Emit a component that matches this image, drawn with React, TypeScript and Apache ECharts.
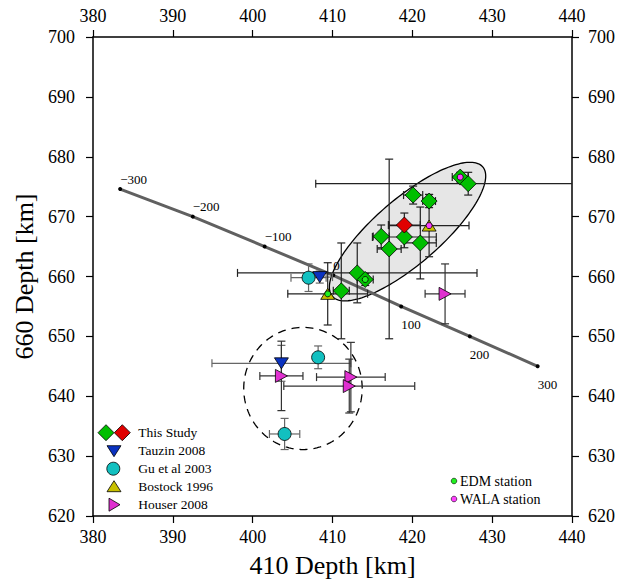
import React, { useEffect, useRef } from 'react';
import * as echarts from 'echarts';

const FONT = '"Liberation Serif", "Times New Roman", serif';

// Axis ranges / ticks
const X_MIN = 380, X_MAX = 440, X_STEP = 10;
const Y_MIN = 620, Y_MAX = 700, Y_STEP = 10;

// Slab profile (distance along profile, km) and its position
const slabDist = [-300, -200, -100, 0, 100, 200, 300];
const slabX = [383.4, 392.5, 401.5, 410.1, 418.6, 427.2, 435.7];
const slabY = [674.6, 670.0, 665.0, 660.2, 655.0, 650.0, 645.0];

// [410 depth, 660 depth, 410 error, 660 error]
const thisStudyGreen = [
  [420.1, 673.6, 1.2, 1.5],
  [422.1, 672.6, 0.8, 1.1],
  [416.1, 666.7, 1.0, 1.9],
  [419.0, 666.6, 4.0, 1.8],
  [421.0, 665.6, 2.0, 6.0],
  [417.1, 664.6, 1.5, 15.0],
  [413.1, 660.6, 15.0, 5.0],
  [414.1, 659.5, 1.0, 1.0],
  [411.1, 657.6, 1.0, 8.0],
  [426.0, 676.6, 1.0, 0.8],
  [427.0, 675.5, 19.1, 1.9],
];
const thisStudyRed = [[419.0, 668.6, 2.0, 2.0]];
const tauzin2008 = [
  [408.4, 659.9, 1.6, 1.0],
  [403.6, 645.5, 8.7, 3.0],
];
const gu2003 = [
  [407.0, 659.8, 2.2, 2.3],
  [408.2, 646.5, 0.5, 1.9],
  [404.0, 633.7, 1.9, 2.6],
];
const bostock1996 = [
  [422.1, 668.5, 5.0, 5.2],
  [409.4, 657.1, 5.0, 5.2],
];
const houser2008 = [
  [424.1, 657.1, 2.5, 5.0],
  [403.6, 643.4, 2.7, 5.8],
  [412.3, 643.2, 4.3, 5.8],
  [412.1, 641.7, 8.2, 4.5],
];
const edmStation = [[414.1, 659.5], [409.4, 657.1]];
const walaStation = [[426.0, 676.6], [422.1, 668.5]];

// Annotation shapes in data units: [cx, cy, ax, ay, bx, by]
const clusterEllipse = [[419.4, 667.5, 9.42, 10.81, 2.67, -4.14]];
const clusterCircle = [[406.3, 641.3, 7.42, 0, 0, 10.2]];

const C = {
  green: '#00bf00',
  red: '#e00000',
  blue: '#0a32c0',
  cyan: '#12c0c0',
  yellow: '#c8c000',
  magenta: '#e030d0',
  edm: '#20f020',
  wala: '#ff40ff',
};

const errRender = (color: string) => (params: any, api: any) => {
  const x = api.value(0), y = api.value(1), ex = api.value(2), ey = api.value(3);
  const cs = params.coordSys;
  const x0 = cs.x, x1 = cs.x + cs.width, y0 = cs.y, y1 = cs.y + cs.height;
  const cx = (v: number) => Math.max(x0, Math.min(x1, v));
  const cy = (v: number) => Math.max(y0, Math.min(y1, v));
  const l = api.coord([x - ex, y]);
  const r = api.coord([x + ex, y]);
  const t = api.coord([x, y + ey]);
  const b = api.coord([x, y - ey]);
  const cap = 4;
  const st = { stroke: color, lineWidth: 1.2, fill: null };
  const children: any[] = [];
  const seg = (a: number, bb: number, c: number, d: number) =>
    children.push({ type: 'line', shape: { x1: a, y1: bb, x2: c, y2: d }, style: st });
  if (ex > 0) {
    seg(cx(l[0]), l[1], cx(r[0]), r[1]);
    if (l[0] >= x0) seg(l[0], l[1] - cap, l[0], l[1] + cap);
    if (r[0] <= x1) seg(r[0], r[1] - cap, r[0], r[1] + cap);
  }
  if (ey > 0) {
    seg(t[0], cy(t[1]), b[0], cy(b[1]));
    if (t[1] >= y0) seg(t[0] - cap, t[1], t[0] + cap, t[1]);
    if (b[1] <= y1) seg(b[0] - cap, b[1], b[0] + cap, b[1]);
  }
  return { type: 'group', children };
};

const shapeRender = (style: any) => (params: any, api: any) => {
  const cxv = api.value(0), cyv = api.value(1);
  const ax = api.value(2), ay = api.value(3), bx = api.value(4), by = api.value(5);
  const pts: number[][] = [];
  const n = 160;
  for (let i = 0; i < n; i++) {
    const t = (i / n) * Math.PI * 2;
    pts.push(api.coord([cxv + ax * Math.cos(t) + bx * Math.sin(t), cyv + ay * Math.cos(t) + by * Math.sin(t)]));
  }
  return { type: 'polygon', shape: { points: pts }, style };
};

const errSeries = (data: number[][], color: string) => ({
  type: 'custom',
  data,
  encode: { x: 0, y: 1 },
  z: 3,
  silent: true,
  renderItem: errRender(color),
});

const markSeries = (name: string, data: number[][], symbol: string, size: any, color: string, rotate = 0, z = 4) => ({
  name,
  type: 'scatter',
  data: data.map((d) => [d[0], d[1]]),
  symbol,
  symbolSize: size,
  symbolRotate: rotate,
  z,
  itemStyle: { color, borderColor: '#000', borderWidth: 0.8, opacity: 1 },
});

const polyEl = (points: number[][], fill: string) => ({
  type: 'polygon',
  shape: { points },
  style: { fill, stroke: '#000', lineWidth: 0.8 },
});

const legendText = (text: string, x: number, y: number, size: number) => ({
  type: 'text',
  x,
  y,
  style: { text, fontSize: size, fontFamily: FONT, fill: '#000', align: 'left', verticalAlign: 'middle' },
});

function buildOption() {
  const axisCommon = {
    type: 'value',
    axisLine: { show: true, onZero: false, lineStyle: { color: '#000', width: 1.5 } },
    axisTick: { show: true, inside: false, length: 7, lineStyle: { color: '#000', width: 1.2 } },
    splitLine: { show: false },
    axisLabel: { fontSize: 18, fontFamily: FONT, color: '#000', margin: 12 },
  };
  const lg = 432.7;
  const dy = 18;
  const mx = 114;
  return {
    animation: false,
    backgroundColor: '#fff',
    grid: { left: 93, right: 42, top: 37, bottom: 63, containLabel: false },
    xAxis: [
      {
        ...axisCommon, min: X_MIN, max: X_MAX, interval: X_STEP, position: 'bottom',
        name: '410 Depth [km]', nameLocation: 'middle', nameGap: 36,
        nameTextStyle: { fontSize: 26, fontFamily: FONT, color: '#000' },
      },
      { ...axisCommon, min: X_MIN, max: X_MAX, interval: X_STEP, position: 'top' },
    ],
    yAxis: [
      {
        ...axisCommon, min: Y_MIN, max: Y_MAX, interval: Y_STEP, position: 'left',
        axisLabel: { ...axisCommon.axisLabel, margin: 18 },
        name: '660 Depth [km]', nameLocation: 'middle', nameGap: 55,
        nameTextStyle: { fontSize: 26, fontFamily: FONT, color: '#000' },
      },
      {
        ...axisCommon, min: Y_MIN, max: Y_MAX, interval: Y_STEP, position: 'right',
        axisLabel: { ...axisCommon.axisLabel, margin: 16 },
      },
    ],
    series: [
      {
        type: 'custom', data: clusterEllipse, encode: { x: 0, y: 1 }, z: 1, silent: true,
        renderItem: shapeRender({ fill: '#e6e6e6', stroke: '#000', lineWidth: 1.3 }),
      },
      {
        type: 'custom', data: clusterCircle, encode: { x: 0, y: 1 }, z: 1, silent: true,
        renderItem: shapeRender({ fill: null, stroke: '#000', lineWidth: 1.3, lineDash: [8, 6] }),
      },
      {
        type: 'line',
        z: 2,
        data: slabX.map((x, i) => ({
          value: [x, slabY[i]],
          label: slabDist[i] <= 0
            ? { position: [2, -8] }
            : { position: [2, 20] },
        })),
        symbol: 'circle',
        symbolSize: 4,
        showAllSymbol: true,
        itemStyle: { color: '#000' },
        lineStyle: { color: '#606060', width: 3 },
        label: {
          show: true,
          fontSize: 13,
          fontFamily: FONT,
          color: '#000',
          align: 'left',
          verticalAlign: 'middle',
          formatter: (p: any) => {
            const d = slabDist[p.dataIndex];
            return (d < 0 ? '\u2212' : '') + Math.abs(d);
          },
        },
      },
      errSeries(thisStudyGreen, '#222'),
      errSeries(thisStudyRed, '#222'),
      errSeries(tauzin2008, '#666'),
      errSeries(gu2003, '#666'),
      errSeries(bostock1996, '#222'),
      errSeries(houser2008, '#333'),
      markSeries('This Study', thisStudyGreen, 'diamond', 16, C.green),
      markSeries('This Study red', thisStudyRed, 'diamond', 16, C.red),
      markSeries('Tauzin 2008', tauzin2008, 'triangle', [14, 11], C.blue, 180),
      markSeries('Gu et al 2003', gu2003, 'circle', 13, C.cyan),
      markSeries('Bostock 1996', bostock1996, 'triangle', [14, 11], C.yellow),
      markSeries('Houser 2008', houser2008, 'triangle', [13, 12], C.magenta, -90),
      markSeries('EDM station', edmStation, 'circle', 6, C.edm, 0, 5),
      markSeries('WALA station', walaStation, 'circle', 6, C.wala, 0, 5),
    ],
    graphic: [
      polyEl([[106, lg - 8], [114, lg], [106, lg + 8], [98, lg]], C.green),
      polyEl([[122.3, lg - 8], [130.3, lg], [122.3, lg + 8], [114.3, lg]], C.red),
      polyEl([[mx - 7, lg + dy - 5], [mx + 7, lg + dy - 5], [mx, lg + dy + 6]], C.blue),
      { type: 'circle', shape: { cx: 113.3, cy: lg + 2 * dy, r: 6.5 }, style: { fill: C.cyan, stroke: '#000', lineWidth: 0.8 } },
      polyEl([[mx - 7, lg + 3 * dy + 5], [mx + 7, lg + 3 * dy + 5], [mx, lg + 3 * dy - 6]], C.yellow),
      polyEl([[mx - 5, lg + 4 * dy - 6.5], [mx + 6, lg + 4 * dy], [mx - 5, lg + 4 * dy + 6.5]], C.magenta),
      legendText('This Study', 138.3, lg, 13.5),
      legendText('Tauzin 2008', 138.3, lg + dy, 13.5),
      legendText('Gu et al 2003', 138.3, lg + 2 * dy, 13.5),
      legendText('Bostock 1996', 138.3, lg + 3 * dy, 13.5),
      legendText('Houser 2008', 138.3, lg + 4 * dy, 13.5),
      { type: 'circle', shape: { cx: 454, cy: 481, r: 2.8 }, style: { fill: C.edm, stroke: '#000', lineWidth: 0.6 } },
      { type: 'circle', shape: { cx: 454, cy: 499, r: 2.8 }, style: { fill: C.wala, stroke: '#000', lineWidth: 0.6 } },
      legendText('EDM station', 460, 481, 14),
      legendText('WALA station', 460, 499, 14),
    ],
  };
}

export default function App() {
  const ref = useRef<HTMLDivElement>(null);
  useEffect(() => {
    if (!ref.current) return;
    const chart = echarts.init(ref.current, null as any, { renderer: 'svg' });
    chart.setOption(buildOption() as any);
    return () => chart.dispose();
  }, []);
  return (
    <div
      ref={ref}
      style={{ position: 'absolute', left: 0, top: 0, width: 618, height: 583, background: '#fff' }}
    />
  );
}
